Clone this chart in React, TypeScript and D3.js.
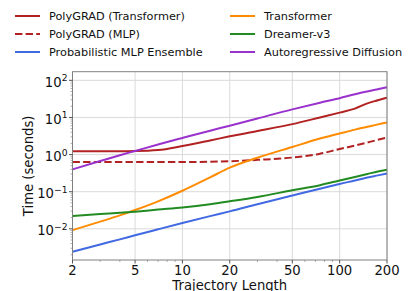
import React from "react";
import * as d3 from "d3";

// trajectory lengths where the timings were measured
const lengths = [2, 3, 4, 5, 7, 10, 15, 20, 30, 50, 75, 100, 125, 150, 175, 200];

const polygradTransformer = [1.23, 1.23, 1.23, 1.24, 1.32, 1.7, 2.4, 3.1, 4.3, 6.6, 10, 13.5, 17.3, 24, 29, 34];
const polygradMlp = [0.63, 0.63, 0.63, 0.63, 0.63, 0.63, 0.64, 0.66, 0.72, 0.83, 1.05, 1.41, 1.75, 2.1, 2.5, 2.87];
const mlpEnsemble = [0.0024, 0.0038, 0.0052, 0.0067, 0.0097, 0.0143, 0.022, 0.0295, 0.046, 0.079, 0.12, 0.162, 0.2, 0.24, 0.275, 0.31];
const transformer = [0.0092, 0.0156, 0.023, 0.032, 0.055, 0.106, 0.243, 0.445, 0.82, 1.6, 2.7, 3.7, 4.7, 5.6, 6.5, 7.3];
const dreamer = [0.022, 0.025, 0.027, 0.029, 0.033, 0.0376, 0.046, 0.055, 0.072, 0.109, 0.15, 0.2, 0.25, 0.3, 0.35, 0.39];
const arDiffusion = [0.4, 0.67, 0.96, 1.25, 1.87, 2.8, 4.4, 6.0, 9.4, 16.5, 25, 33, 42, 50, 57.5, 65];

const xTicks = [2, 5, 10, 20, 50, 100, 200];
const yTickExps = [-2, -1, 0, 1, 2];

const series = [
  { name: "PolyGRAD (Transformer)", values: polygradTransformer, color: "#b22222", dash: null },
  { name: "PolyGRAD (MLP)", values: polygradMlp, color: "#b22222", dash: "7.4,3.2" },
  { name: "Probabilistic MLP Ensemble", values: mlpEnsemble, color: "#4169e1", dash: null },
  { name: "Transformer", values: transformer, color: "#ff8c00", dash: null },
  { name: "Dreamer-v3", values: dreamer, color: "#228b22", dash: null },
  { name: "Autoregressive Diffusion", values: arDiffusion, color: "#9932cc", dash: null },
];

const W = 412;
const H = 291;
const m = { left: 72.5, right: 387, top: 71.7, bottom: 260 };
const FONT = "DejaVu Sans, sans-serif";

export default function App() {
  const x = d3.scaleLog().domain([2, 200]).range([m.left, m.right]);
  const y = d3.scaleLog().domain([Math.pow(10, -2.84), Math.pow(10, 2.232)]).range([m.bottom, m.top]);

  const line = d3
    .line<number>()
    .x((_, i) => x(lengths[i]))
    .y((d) => y(d))
    .curve(d3.curveMonotoneX);

  // minor ticks
  const yMinor: number[] = [];
  for (let e = -3; e <= 2; e++) {
    for (let k = 2; k <= 9; k++) {
      const v = k * Math.pow(10, e);
      if (v >= y.domain()[0] && v <= y.domain()[1]) yMinor.push(v);
    }
  }
  const xMinor = x.ticks().filter((v) => !xTicks.includes(v));

  const sup = (e: number) => (e < 0 ? "\u2212" + Math.abs(e) : String(e));

  return (
    <svg
      width={W}
      height={H}
      style={{ position: "absolute", left: 0, top: 0, background: "#fff" }}
      fontFamily={FONT}
    >
      {/* grid */}
      {xTicks.map((t) => (
        <line key={"gx" + t} x1={x(t)} x2={x(t)} y1={m.top} y2={m.bottom} stroke="#dadada" strokeWidth={1} />
      ))}
      {yTickExps.map((e) => (
        <line
          key={"gy" + e}
          x1={m.left}
          x2={m.right}
          y1={y(Math.pow(10, e))}
          y2={y(Math.pow(10, e))}
          stroke="#dadada"
          strokeWidth={1}
        />
      ))}

      {/* series */}
      {series.map((s) => (
        <path
          key={s.name}
          d={line(s.values) || ""}
          fill="none"
          stroke={s.color}
          strokeWidth={2}
          strokeDasharray={s.dash || undefined}
          strokeLinejoin="round"
        />
      ))}

      {/* frame */}
      <rect
        x={m.left}
        y={m.top}
        width={m.right - m.left}
        height={m.bottom - m.top}
        fill="none"
        stroke="#808080"
        strokeWidth={1}
      />

      {/* x ticks */}
      {xTicks.map((t) => (
        <g key={"xt" + t}>
          <line x1={x(t)} x2={x(t)} y1={m.bottom} y2={m.bottom + 3.5} stroke="#555" />
          <text x={x(t)} y={m.bottom + 15} textAnchor="middle" fontSize={13.2} fill="#111">
            {t}
          </text>
        </g>
      ))}
      {xMinor.map((t) => (
        <line key={"xm" + t} x1={x(t)} x2={x(t)} y1={m.bottom} y2={m.bottom + 2} stroke="#777" strokeWidth={0.6} />
      ))}

      {/* y ticks */}
      {yTickExps.map((e) => {
        const py = y(Math.pow(10, e));
        return (
          <g key={"yt" + e}>
            <line x1={m.left - 3.5} x2={m.left} y1={py} y2={py} stroke="#555" />
            <text x={m.left - 5} y={py + 6.5} textAnchor="end" fontSize={13.2} fill="#111">
              10
              <tspan dy={-5.5} fontSize={9.2}>
                {sup(e)}
              </tspan>
            </text>
          </g>
        );
      })}
      {yMinor.map((v, i) => (
        <line key={"ym" + i} x1={m.left - 2} x2={m.left} y1={y(v)} y2={y(v)} stroke="#777" strokeWidth={0.6} />
      ))}

      {/* axis labels */}
      <text x={(m.left + m.right) / 2} y={289.6} textAnchor="middle" fontSize={13.2} fill="#111">
        Trajectory Length
      </text>
      <text
        transform={`translate(33,${(m.top + m.bottom) / 2}) rotate(-90)`}
        textAnchor="middle"
        fontSize={13.2}
        fill="#111"
      >
        Time (seconds)
      </text>

      {/* legend */}
      {series.map((s, i) => {
        const col = Math.floor(i / 3);
        const row = i % 3;
        const lx = col === 0 ? 15 : 230;
        const ly = 16 + row * 18;
        return (
          <g key={"lg" + s.name}>
            <line
              x1={lx}
              x2={lx + 25}
              y1={ly}
              y2={ly}
              stroke={s.color}
              strokeWidth={2}
              strokeDasharray={s.dash || undefined}
            />
            <text x={lx + 34} y={ly + 4} fontSize={11.3} fill="#111">
              {s.name}
            </text>
          </g>
        );
      })}
    </svg>
  );
}
